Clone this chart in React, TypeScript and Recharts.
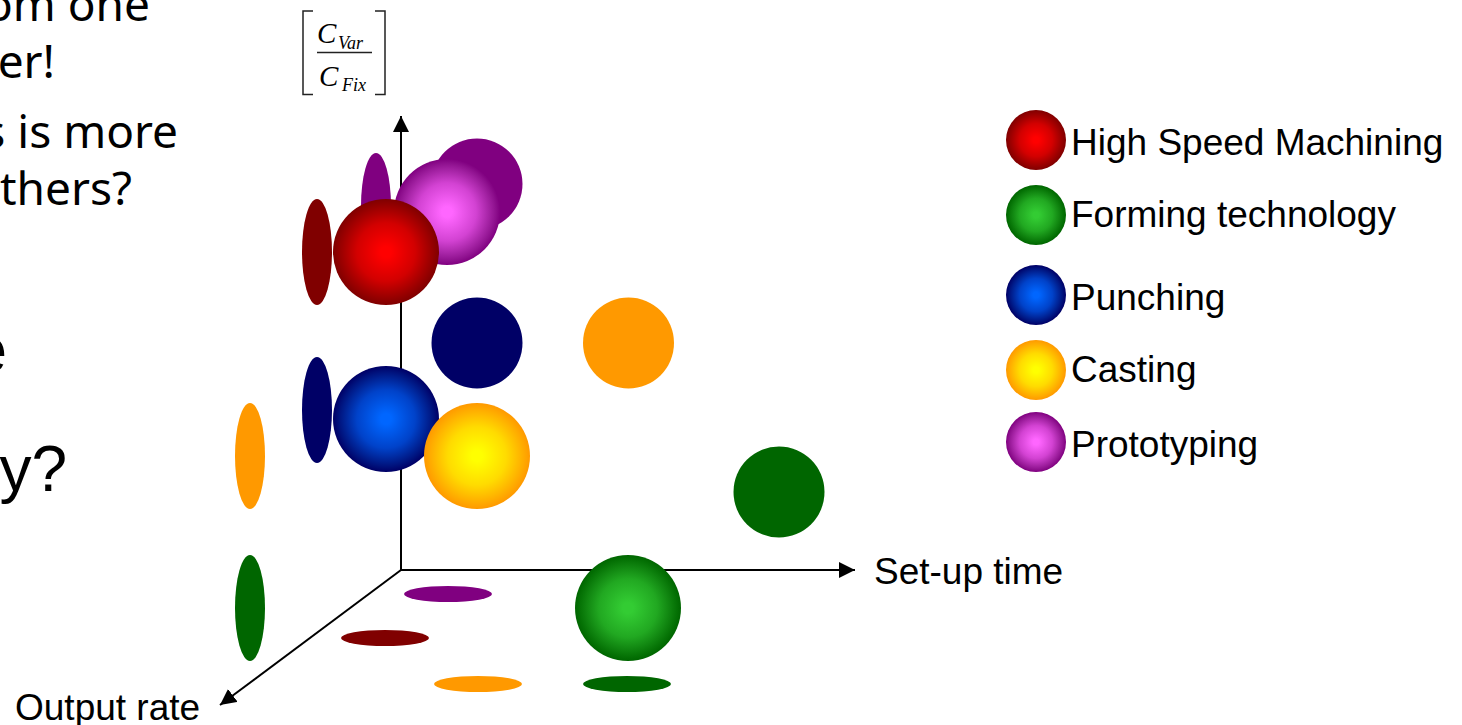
import { ReferenceLine, Scatter, ScatterChart, XAxis, YAxis } from 'recharts'

type Tech = 'hsm' | 'forming' | 'punching' | 'casting' | 'proto'
type Point = { tech: Tech; x: number; y: number }

const spherePoints: Point[] = [
    { tech: 'proto', x: 46, y: 358 },
    { tech: 'hsm', x: -15, y: 318 },
    { tech: 'punching', x: -15, y: 151 },
    { tech: 'casting', x: 76, y: 114 },
    { tech: 'forming', x: 227, y: -38 },
]
const rearPoints: Point[] = [
    { tech: 'proto', x: 76, y: 386 },
    { tech: 'punching', x: 76, y: 227 },
    { tech: 'casting', x: 227.5, y: 227 },
    { tech: 'forming', x: 378, y: 78 },
]
const wallPoints: Point[] = [
    { tech: 'proto', x: -25, y: 364 },
    { tech: 'hsm', x: -84, y: 318 },
    { tech: 'punching', x: -84, y: 160 },
    { tech: 'casting', x: -151, y: 114 },
    { tech: 'forming', x: -151, y: -38 },
]
const floorPoints: Point[] = [
    { tech: 'proto', x: 47, y: -24 },
    { tech: 'hsm', x: -16, y: -68 },
    { tech: 'casting', x: 77, y: -114 },
    { tech: 'forming', x: 226, y: -114 },
]

const legendTechs: Tech[] = ['hsm', 'forming', 'punching', 'casting', 'proto']
const legendNames = ['High Speed Machining', 'Forming technology', 'Punching', 'Casting', 'Prototyping']
const legendTops = [109, 184, 264, 339, 411]
const legendTextShift = [3, 0, 3, 0, 3]

const centerColors: Record<Tech, string> = {
    hsm: '#ff0000',
    forming: '#33cc33',
    punching: '#0066ff',
    casting: '#ffff00',
    proto: '#ff66ff',
}
const edgeColors: Record<Tech, string> = {
    hsm: '#800000',
    forming: '#006600',
    punching: '#000066',
    casting: '#ff9900',
    proto: '#800080',
}

const midColor = (t: Tech) => `color-mix(in srgb, ${centerColors[t]} 65%, ${edgeColors[t]})`

const Sphere = ({ cx, cy, payload }: any) => <circle cx={cx} cy={cy} r={53} fill={`url(#glow-${payload.tech})`} />
const Flat = ({ cx, cy, payload }: any) => <circle cx={cx} cy={cy} r={45.5} fill={edgeColors[payload.tech as Tech]} />
const WallSpot = ({ cx, cy, payload }: any) => (
    <ellipse cx={cx} cy={cy} rx={15} ry={53} fill={edgeColors[payload.tech as Tech]} />
)
const FloorSpot = ({ cx, cy, payload }: any) => (
    <ellipse cx={cx} cy={cy} rx={44} ry={8} fill={edgeColors[payload.tech as Tech]} />
)

const sans = '"Liberation Sans", Arial, sans-serif'
const slide = '"Noto Sans", sans-serif'
const serif = '"Liberation Serif", serif'

const App = () => {
    return (
        <div style={{ position: 'absolute', left: 0, top: 0, width: 1462, height: 725, overflow: 'hidden', background: '#fff' }}>
            <ScatterChart width={1462} height={725} margin={{ top: 0, right: 0, bottom: 0, left: 0 }}>
                <defs>
                    {legendTechs.map((t) => (
                        <radialGradient key={t} id={`glow-${t}`}>
                            <stop offset="0%" stopColor={centerColors[t]} />
                            <stop offset="10%" stopColor={centerColors[t]} />
                            <stop offset="55%" stopColor={midColor(t)} />
                            <stop offset="100%" stopColor={edgeColors[t]} />
                        </radialGradient>
                    ))}
                    <marker id="arrow" markerUnits="userSpaceOnUse" markerWidth="17" markerHeight="17" refX="16" refY="8" orient="auto">
                        <path d="M0 0 L16 8 L0 16 Z" fill="#000" />
                    </marker>
                </defs>
                <XAxis type="number" dataKey="x" domain={[-401, 1061]} hide />
                <YAxis type="number" dataKey="y" domain={[-155, 570]} hide />
                <ReferenceLine segment={[{ x: 0, y: 0 }, { x: 454, y: 0 }]} stroke="#000" strokeWidth={2} markerEnd="url(#arrow)" ifOverflow="visible" />
                <ReferenceLine segment={[{ x: 0, y: 0 }, { x: 0, y: 454 }]} stroke="#000" strokeWidth={2} markerEnd="url(#arrow)" ifOverflow="visible" />
                <ReferenceLine segment={[{ x: 0, y: 0 }, { x: -181, y: -135 }]} stroke="#000" strokeWidth={2} markerEnd="url(#arrow)" ifOverflow="visible" />
                <Scatter data={wallPoints} shape={WallSpot} isAnimationActive={false} />
                <Scatter data={floorPoints} shape={FloorSpot} isAnimationActive={false} />
                <Scatter data={rearPoints} shape={Flat} isAnimationActive={false} />
                <Scatter data={spherePoints} shape={Sphere} isAnimationActive={false} />
            </ScatterChart>

            <svg width={1462} height={725} style={{ position: 'absolute', left: 0, top: 0, pointerEvents: 'none' }}>
                <g fontFamily={slide} fontSize={46} textAnchor="end" fill="#000">
                    <text x={150} y={21}>om one</text>
                    <text x={55} y={78}>er!</text>
                    <text x={178} y={148}>s is more</text>
                    <text x={132} y={205}>thers?</text>
                </g>
                <g fontFamily={sans} fontSize={64} textAnchor="end" fill="#000">
                    <text x={7} y={372}>e</text>
                    <text x={67} y={491}>y?</text>
                </g>
                <g fontFamily={sans} fontSize={37} fill="#000">
                    <text x={874} y={584}>Set-up time</text>
                    <text x={15} y={720}>Output rate</text>
                </g>
                <g fill="none" stroke="#222" strokeWidth={1.5}>
                    <path d="M313 11 H303 V94.5 H313" />
                    <path d="M375 11 H385 V94.5 H375" />
                    <path d="M317 52.5 H372" />
                </g>
                <g fontFamily={serif} fontStyle="italic" fill="#000">
                    <text x={317} y={43} fontSize={29}>C</text>
                    <text x={338} y={49} fontSize={18}>Var</text>
                    <text x={319} y={86} fontSize={29}>C</text>
                    <text x={342} y={91} fontSize={18}>Fix</text>
                </g>
            </svg>

            {legendNames.map((name, i) => (
                <div key={name} style={{ position: 'absolute', left: 1006, top: legendTops[i], display: 'flex', alignItems: 'center', height: 61 }}>
                    <span
                        style={{
                            width: 60,
                            height: 60,
                            borderRadius: '50%',
                            background: `radial-gradient(circle closest-side, ${centerColors[legendTechs[i]]} 10%, ${midColor(legendTechs[i])} 55%, ${edgeColors[legendTechs[i]]})`,
                        }}
                    />
                    <span style={{ marginLeft: 5, marginTop: legendTextShift[i] * 2, fontFamily: sans, fontSize: 37, whiteSpace: 'nowrap' }}>{name}</span>
                </div>
            ))}
        </div>
    )
}

export default App
